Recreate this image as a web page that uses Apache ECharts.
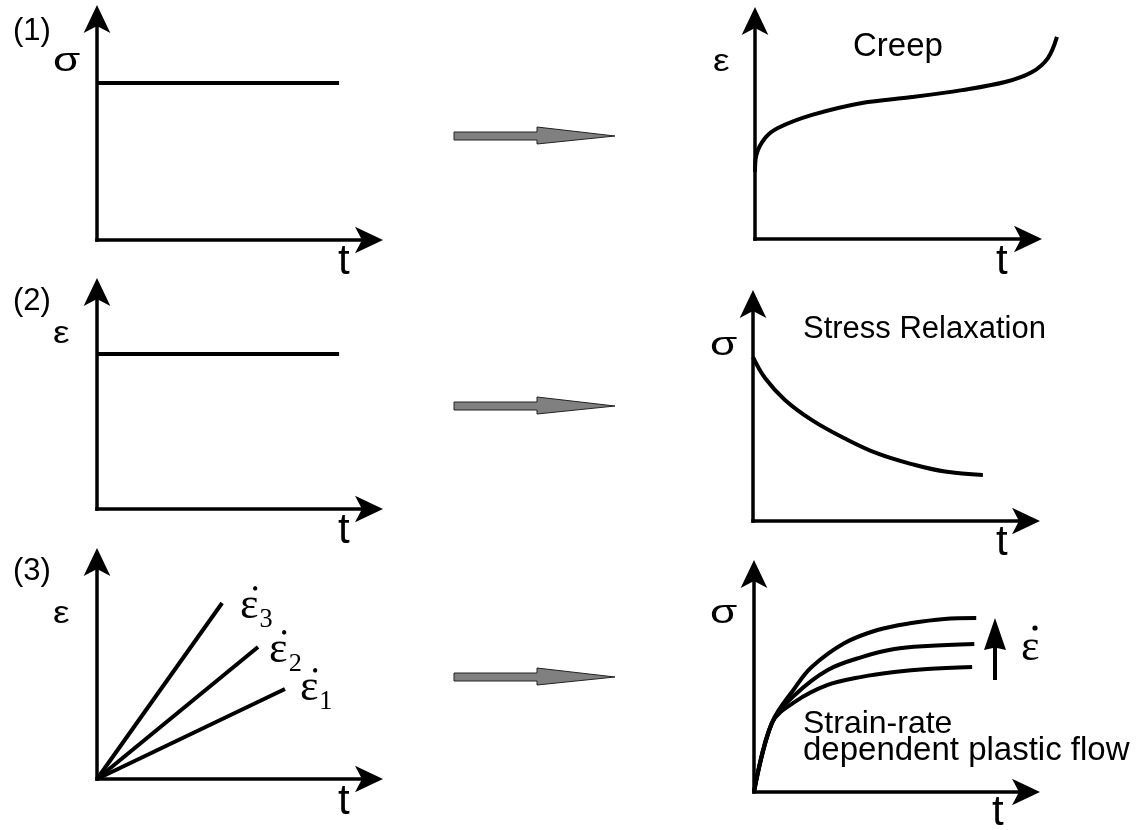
<!DOCTYPE html>
<html>
<head>
<meta charset="utf-8">
<script src="https://cdn.jsdelivr.net/npm/echarts@6/dist/echarts.min.js"></script>
<style>
html, body { margin: 0; padding: 0; background: #fff; }
#chart { width: 1146px; height: 830px; }
</style>
</head>
<body>
<div id="chart"></div>
<script>
// (1) constant stress -> creep strain
var constStress = [[0, 7.1], [8.9, 7.1]];
var creepStrain = [[0, 3.07], [0.05, 3.85], [0.37, 4.63], [0.84, 5.09], [2.09, 5.69], [3.92, 6.24],
    [5.75, 6.51], [7.58, 6.83], [9.16, 7.2], [10.15, 7.66], [10.73, 8.3], [11.06, 9.27]];

// (2) constant strain -> stress relaxation
var constStrain = [[0, 7.14], [8.9, 7.14]];
var relaxStress = [[0, 7.55], [0.44, 6.59], [1.17, 5.58], [2.16, 4.65], [3.37, 3.8], [4.58, 3.1],
    [5.82, 2.62], [7.03, 2.28], [8.42, 2.12]];

// (3) strain ramps at three rates -> rate dependent flow
var rateLabels = ['ε̇₁', 'ε̇₂', 'ε̇₃'];
var strainRamps = [
    [[0, 0], [6.91, 4.15]],
    [[0, 0], [5.92, 6.08]],
    [[0, 0], [4.6, 8.11]]
];
var flowStress = [
    [[0, 0], [0.66, 3.17], [1.5, 4.13], [2.71, 4.91], [3.96, 5.28], [5.16, 5.5], [6.37, 5.64], [8.02, 5.73]],
    [[0, 0], [0.66, 3.17], [1.5, 4.45], [2.71, 5.6], [3.96, 6.19], [5.16, 6.56], [6.37, 6.7], [8.1, 6.79]],
    [[0, 0], [0.66, 3.17], [1.5, 4.77], [2.12, 5.73], [3.33, 6.83], [4.54, 7.43], [5.79, 7.75], [7.0, 7.94], [8.17, 7.98]]
];

var SANS = "'Liberation Sans', Arial, sans-serif";
var SERIF = "'Liberation Serif', 'Times New Roman', serif";

// panel boxes: 0/1 row one, 2/3 row two, 4/5 row three
var boxes = [
    {left: 97, top: 19, width: 272, height: 221},
    {left: 755, top: 21, width: 273, height: 218},
    {left: 97, top: 292, width: 272, height: 217},
    {left: 753, top: 304, width: 273, height: 217},
    {left: 97, top: 562, width: 272, height: 217},
    {left: 754, top: 574, width: 272, height: 218}
];
// creep curve runs past the t arrow, so it gets a wider hidden frame with the same scale
var creepBox = {left: 755, top: 21, width: 273 * 1.2, height: 218};

var axisLine = {
    show: true,
    onZero: false,
    symbol: ['none', 'arrow'],
    symbolSize: [20, 28],
    symbolOffset: [0, 14],
    lineStyle: {color: '#000', width: 3.5, cap: 'square'}
};

function axis(i, max, hidden) {
    return {
        type: 'value', gridIndex: i, min: 0, max: max || 10, show: !hidden,
        axisLine: axisLine,
        axisTick: {show: false},
        axisLabel: {show: false},
        splitLine: {show: false}
    };
}

function curve(data, i, smooth) {
    return {
        type: 'line', xAxisIndex: i, yAxisIndex: i,
        data: data, symbol: 'none', smooth: smooth || false, clip: false,
        lineStyle: {color: '#000', width: 4},
        silent: true
    };
}

function txt(s, x, base, size, fam, sx) {
    var k = fam === SERIF ? 0.3375 : 0.3465;
    return {
        type: 'text', x: x, y: base - k * size, silent: true,
        scaleX: sx || 1,
        style: {
            text: s, fill: '#000', fontSize: size, fontFamily: fam,
            textAlign: 'left', textVerticalAlign: 'middle'
        }
    };
}

function grayArrow(cy) {
    return {
        type: 'polygon', silent: true,
        shape: {points: [[454, cy - 4], [537, cy - 4], [537, cy - 9], [615, cy], [537, cy + 8], [537, cy + 4], [454, cy + 4]]},
        style: {fill: '#808080', stroke: '#222', lineWidth: 1}
    };
}

var series = [
    curve(constStress, 0),
    curve(creepStrain, 6, 0.35),
    curve(constStrain, 2),
    curve(relaxStress, 3, 0.4)
];
var labelOffsets = [[7, -5], [3, -1], [10, -1]];
strainRamps.forEach(function (d, k) {
    var s = curve(d, 4);
    // dot drawn on its own short line above the epsilon
    var body = rateLabels[k].replace('\u0307', '');
    s.endLabel = {
        show: true,
        formatter: '{d|•}\n{e|' + body + '}',
        offset: labelOffsets[k],
        rich: {
            d: {fontFamily: SERIF, fontSize: 18, lineHeight: 8, color: '#000', padding: [0, 0, 0, 12]},
            e: {fontFamily: SERIF, fontSize: 44, lineHeight: 24, color: '#000'}
        }
    };
    series.push(s);
});
flowStress.forEach(function (d) {
    series.push(curve(d, 5, 0.35));
});

var grids = boxes.concat([creepBox]);

var chart = echarts.init(document.getElementById('chart'));
chart.setOption({
    animation: false,
    backgroundColor: '#fff',
    grid: grids.map(function (b) { return Object.assign({containLabel: false}, b); }),
    xAxis: grids.map(function (b, i) { return i === 6 ? axis(i, 12, true) : axis(i); }),
    yAxis: grids.map(function (b, i) { return axis(i, 10, i === 6); }),
    series: series,
    graphic: {
        elements: [
            txt('(1)', 13, 42, 31, SANS),
            txt('(2)', 13, 312, 31, SANS),
            txt('(3)', 13, 582, 31, SANS),
            txt('σ', 53, 73, 34, SANS, 1.3),
            txt('ε', 713, 73, 31, SANS, 1.2),
            txt('ε', 53, 345, 31, SANS, 1.2),
            txt('σ', 710, 357, 34, SANS, 1.3),
            txt('ε', 53, 625, 31, SANS, 1.2),
            txt('σ', 710, 625, 34, SANS, 1.3),
            txt('t', 338, 277, 42, SANS),
            txt('t', 996, 277, 42, SANS),
            txt('t', 338, 546, 42, SANS),
            txt('t', 996, 558, 42, SANS),
            txt('t', 338, 817, 42, SANS),
            txt('t', 992, 828, 42, SANS),
            txt('Creep', 853, 58, 33, SANS),
            txt('Stress Relaxation', 803, 340, 31, SANS),
            txt('Strain-rate', 803, 735, 32, SANS),
            txt('dependent plastic flow', 803, 762, 33, SANS),
            txt('ε', 1021, 663, 44, SERIF),
            {type: 'circle', silent: true, shape: {cx: 1035, cy: 628, r: 2.6}, style: {fill: '#000'}},
            grayArrow(136),
            grayArrow(406),
            grayArrow(677),
            {
                type: 'polygon', silent: true,
                shape: {points: [[995, 618], [984, 650], [993, 648], [993, 680], [997, 680], [997, 648], [1006, 650]]},
                style: {fill: '#000'}
            }
        ]
    }
});
</script>
</body>
</html>
